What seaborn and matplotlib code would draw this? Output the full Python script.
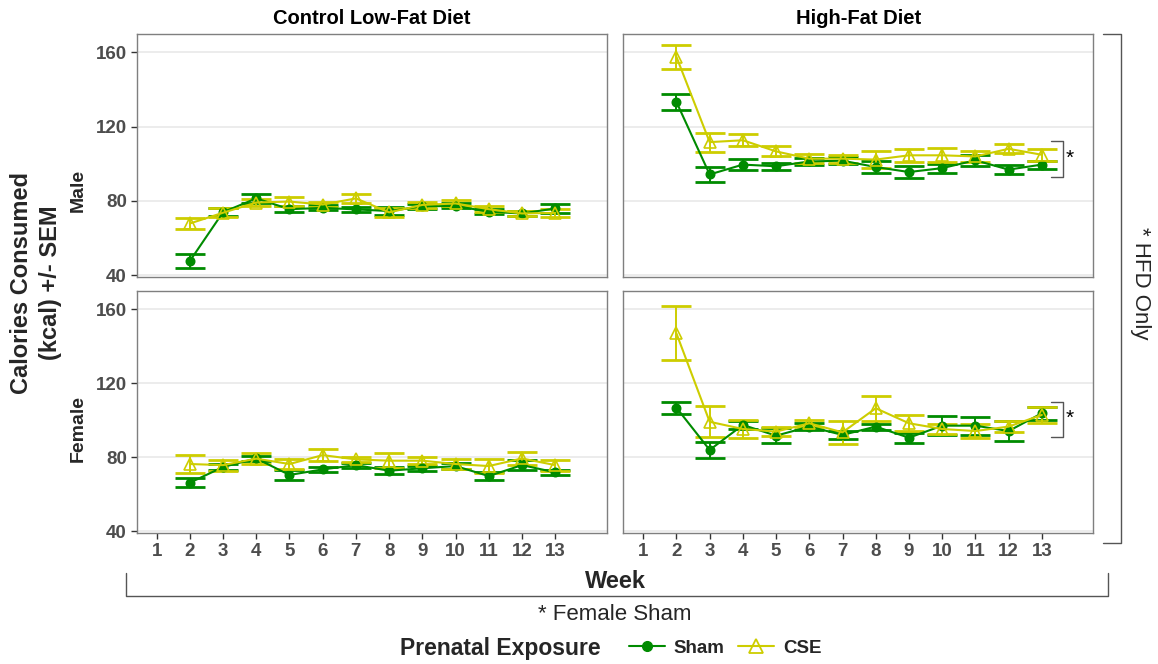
import matplotlib
matplotlib.use('Agg')
import matplotlib.pyplot as plt
import numpy as np
import pandas as pd
import seaborn as sns
from matplotlib.lines import Line2D

weeks = list(range(2, 14))
week_ticks = list(range(1, 14))
diets = ['Control Low-Fat Diet', 'High-Fat Diet']
sexes = ['Male', 'Female']
groups = ['Sham', 'CSE']

male_lfd_sham = [47.6, 73.9, 81.3, 75.5, 76.2, 75.4, 74.5, 77.0, 77.3, 74.1, 73.2, 75.9]
male_lfd_sham_sem = [4.0, 2.0, 2.2, 1.5, 1.3, 1.5, 2.0, 1.5, 1.3, 1.4, 1.3, 2.2]
male_lfd_cse = [67.8, 73.6, 79.1, 79.6, 78.0, 81.3, 73.8, 77.8, 78.6, 75.5, 73.2, 73.5]
male_lfd_cse_sem = [2.9, 2.4, 1.8, 2.2, 1.5, 2.4, 2.3, 1.8, 1.6, 1.6, 1.3, 2.2]

male_hfd_sham = [133.2, 94.2, 99.5, 98.6, 101.2, 101.6, 98.2, 95.5, 97.6, 101.8, 96.8, 99.5]
male_hfd_sham_sem = [4.5, 3.9, 3.0, 1.9, 2.0, 2.0, 3.3, 3.2, 2.4, 3.1, 2.5, 2.2]
male_hfd_cse = [157.5, 111.6, 112.6, 106.6, 102.7, 102.7, 102.2, 104.5, 104.5, 103.9, 108.0, 104.8]
male_hfd_cse_sem = [6.5, 5.1, 3.3, 2.7, 2.4, 2.2, 4.5, 3.6, 3.8, 3.1, 2.4, 3.1]

female_lfd_sham = [66.3, 74.8, 79.4, 70.5, 73.5, 75.8, 72.8, 74.1, 75.3, 69.9, 75.8, 71.9]
female_lfd_sham_sem = [2.4, 1.5, 1.5, 2.7, 1.3, 1.3, 2.0, 1.3, 1.5, 2.0, 2.7, 1.2]
female_lfd_cse = [76.4, 75.8, 79.3, 76.4, 81.2, 78.9, 78.2, 78.2, 76.4, 75.3, 79.4, 75.8]
female_lfd_cse_sem = [4.9, 3.0, 3.1, 2.7, 3.3, 1.5, 4.0, 2.0, 2.5, 3.8, 3.3, 3.0]

female_hfd_sham = [106.8, 84.0, 97.5, 91.7, 96.6, 92.1, 96.6, 90.6, 97.1, 97.1, 94.2, 103.8]
female_hfd_sham_sem = [3.3, 4.1, 2.0, 4.0, 1.8, 2.0, 1.6, 2.7, 5.2, 4.8, 5.4, 3.4]
female_hfd_cse = [146.9, 99.2, 95.3, 93.9, 98.4, 93.5, 106.5, 98.4, 95.3, 94.2, 96.6, 102.9]
female_hfd_cse_sem = [14.6, 8.4, 4.7, 2.4, 1.8, 6.3, 6.7, 4.3, 2.7, 4.0, 3.1, 4.5]

y_ticks = [40, 80, 120, 160]

series = {
    ('Male', 'Control Low-Fat Diet', 'Sham'): (male_lfd_sham, male_lfd_sham_sem),
    ('Male', 'Control Low-Fat Diet', 'CSE'): (male_lfd_cse, male_lfd_cse_sem),
    ('Male', 'High-Fat Diet', 'Sham'): (male_hfd_sham, male_hfd_sham_sem),
    ('Male', 'High-Fat Diet', 'CSE'): (male_hfd_cse, male_hfd_cse_sem),
    ('Female', 'Control Low-Fat Diet', 'Sham'): (female_lfd_sham, female_lfd_sham_sem),
    ('Female', 'Control Low-Fat Diet', 'CSE'): (female_lfd_cse, female_lfd_cse_sem),
    ('Female', 'High-Fat Diet', 'Sham'): (female_hfd_sham, female_hfd_sham_sem),
    ('Female', 'High-Fat Diet', 'CSE'): (female_hfd_cse, female_hfd_cse_sem),
}
rows = []
for (sex, diet, group), (vals, sems) in series.items():
    for w, v, s in zip(weeks, vals, sems):
        rows.append({'sex': sex, 'diet': diet, 'group': group, 'week': w, 'kcal': v, 'sem': s})
df = pd.DataFrame(rows)

colors = {'Sham': '#008B00', 'CSE': '#CDCD00'}
markers = {'Sham': 'o', 'CSE': '^'}

sns.set_theme(style='white')
plt.rcParams['font.family'] = ['Liberation Sans', 'DejaVu Sans']

W, H = 1158, 664
fig = plt.figure(figsize=(W / 100, H / 100), dpi=100)

col_x = [136.7, 623.3]
panel_w = 470.0
row_y = [(34, 277), (291, 533.3)]

# significance brackets for the HFD panels: (bottom, top, star height)
brackets = {('Male', 'High-Fat Diet'): (93.0, 112.4, 102.7),
            ('Female', 'High-Fat Diet'): (91.2, 110.0, 101.1)}

for r, sex in enumerate(sexes):
    for c, diet in enumerate(diets):
        y0, y1 = row_y[r]
        ax = fig.add_axes([col_x[c] / W, 1 - y1 / H, panel_w / W, (y1 - y0) / H])
        sub = df[(df['sex'] == sex) & (df['diet'] == diet)]
        for g in groups:
            d = sub[sub['group'] == g]
            ax.errorbar(d['week'], d['kcal'], yerr=d['sem'], fmt='none', ecolor=colors[g],
                        elinewidth=1.4, capsize=10.5, capthick=2.0, zorder=2)
        for g in groups:
            d = sub[sub['group'] == g]
            sns.lineplot(data=d, x='week', y='kcal', ax=ax, color=colors[g], marker=markers[g],
                         markersize=6 if g == 'Sham' else 8.5,
                         markerfacecolor=colors[g] if g == 'Sham' else 'none',
                         markeredgecolor=colors[g], markeredgewidth=1.2,
                         linewidth=1.5, errorbar=None, legend=False, zorder=3)
        ax.set_xlim(0.4, 14.55)
        ax.set_ylim(39, 169.8)
        ax.set_yticks(y_ticks)
        ax.set_xticks(week_ticks)
        ax.grid(axis='y', color='#ebebeb', linewidth=1.3)
        ax.grid(axis='x', visible=False)
        ax.set_axisbelow(True)
        for sp in ax.spines.values():
            sp.set_color('#7f7f7f')
            sp.set_linewidth(1.0)
        ax.set_xlabel('')
        ax.set_ylabel('')
        ax.tick_params(axis='both', which='major', length=4, width=1, color='#333333',
                       labelcolor='#4d4d4d', labelsize=13.5, pad=3)
        ax.tick_params(axis='y', left=(c == 0), labelleft=(c == 0))
        ax.tick_params(axis='x', bottom=(r == 1), labelbottom=(r == 1))
        for lab in ax.get_xticklabels() + ax.get_yticklabels():
            lab.set_fontweight('bold')
        if r == 0:
            ax.set_title(diet, fontsize=14.5, fontweight='bold', color='black', pad=7)
        if (sex, diet) in brackets:
            lo, hi, star = brackets[(sex, diet)]
            ax.plot([13.27, 13.65, 13.65, 13.27], [hi, hi, lo, lo], color='#555555', lw=1.0,
                    solid_joinstyle='round', zorder=4)
            ax.text(13.85, star, '*', fontsize=15, ha='center', va='center', color='black')

# row labels and y-axis title
fig.text(78 / W, 1 - 190 / H, 'Male', rotation=90, ha='center', va='center',
         fontsize=14, fontweight='bold')
fig.text(78 / W, 1 - 428 / H, 'Female', rotation=90, ha='center', va='center',
         fontsize=14, fontweight='bold')
fig.text(36 / W, 1 - 283 / H, 'Calories Consumed\n(kcal) +/- SEM', rotation=90, ha='center',
         va='center', fontsize=17, fontweight='bold', linespacing=1.3)

# right bracket: HFD only
fig.add_artist(Line2D([1103 / W, 1121 / W, 1121 / W, 1103 / W],
                      [1 - 34 / H, 1 - 34 / H, 1 - 543 / H, 1 - 543 / H],
                      color='#555555', lw=1.0, transform=fig.transFigure))
fig.text(1140 / W, 1 - 283 / H, '* HFD Only', rotation=270, ha='center', va='center', fontsize=16)

# bottom bracket and x title
fig.add_artist(Line2D([126 / W, 126 / W, 1108 / W, 1108 / W],
                      [1 - 573 / H, 1 - 596 / H, 1 - 596 / H, 1 - 573 / H],
                      color='#555555', lw=1.0, transform=fig.transFigure))
fig.text(615 / W, 1 - 581 / H, 'Week', ha='center', va='center', fontsize=17, fontweight='bold')
fig.text(615 / W, 1 - 615 / H, '* Female Sham', ha='center', va='center', fontsize=16)

# legend
fig.text(400 / W, 1 - 648 / H, 'Prenatal Exposure', ha='left', va='center', fontsize=16.5,
         fontweight='bold')
handles = [Line2D([], [], color=colors['Sham'], marker='o', markersize=7, lw=1.5),
           Line2D([], [], color=colors['CSE'], marker='^', markersize=10, markerfacecolor='none',
                  markeredgewidth=1.3, lw=1.5)]
fig.legend(handles, groups, ncol=2, loc='center left', bbox_to_anchor=(612 / W, 1 - 648 / H),
           frameon=False, handlelength=1.9, handletextpad=0.5, columnspacing=0.7,
           prop={'weight': 'bold', 'size': 13.5})

fig.savefig('out.png', dpi=100)
